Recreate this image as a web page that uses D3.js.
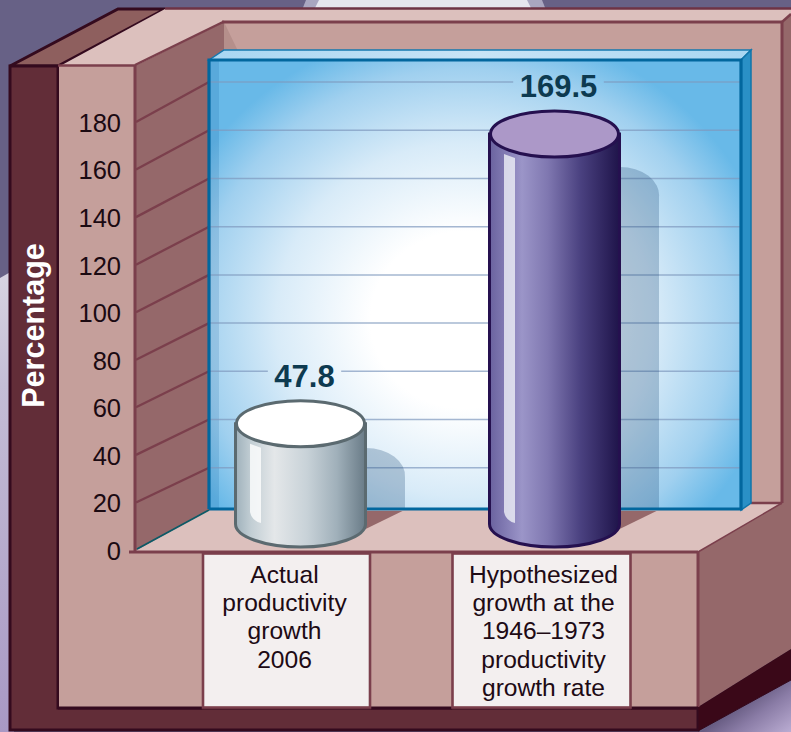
<!DOCTYPE html>
<html>
<head>
<meta charset="utf-8">
<script src="https://cdn.jsdelivr.net/npm/d3@7"></script>
<style>
  html, body { margin: 0; padding: 0; background: #6a6488; overflow: hidden; }
  svg { display: block; font-family: "Liberation Sans", Arial, sans-serif; }
</style>
</head>
<body>
<svg id="chart" width="791" height="732"></svg>
<script>
// Chart content
const categories = ["actual", "hypothesized"];
const categoryLines = [
  ["Actual", "productivity", "growth", "2006"],
  ["Hypothesized", "growth at the", "1946\u20131973", "productivity", "growth rate"]
];
const growthValues = [47.8, 169.5];
const tickValues = [0, 20, 40, 60, 80, 100, 120, 140, 160, 180];
const gridValues = [20, 40, 60, 80, 100, 120, 140, 160, 180];
const axisTitle = "Percentage";

// Palette
const FRONT = "#c59f9b", TOP = "#dcc0bd", WALL = "#95686a", DARK = "#622d38",
      EDGE = "#7b3f4c", DEEP = "#340a1e";

const svg = d3.select("#chart");
const defs = svg.append("defs");

function linear(id, coords, stops) {
  const g = defs.append("linearGradient").attr("id", id).attr("gradientUnits", coords.units || "objectBoundingBox")
    .attr("x1", coords.x1).attr("y1", coords.y1).attr("x2", coords.x2).attr("y2", coords.y2);
  stops.forEach(s => g.append("stop").attr("offset", s[0]).attr("stop-color", s[1]));
}
linear("bgLeft", {x1: 0, y1: 0, x2: 0, y2: 1}, [[0, "#d8d4e2"], [0.25, "#c4bdd6"], [1, "#a898c4"]]);
linear("bgCorner", {units: "userSpaceOnUse", x1: 735, y1: 690, x2: 775, y2: 745}, [[0, "#4e4468"], [0.5, "#8a7ca6"], [1, "#bcaed4"]]);
linear("barGrey", {x1: 0, y1: 0, x2: 1, y2: 0},
  [[0, "#9fb1bb"], [0.12, "#c2ced4"], [0.3, "#e4e7e9"], [0.55, "#c8d2d8"], [0.78, "#a0b0ba"], [1, "#697b87"]]);
linear("barPurple", {x1: 0, y1: 0, x2: 1, y2: 0},
  [[0, "#6a629f"], [0.25, "#9b95c8"], [0.45, "#7f77b0"], [0.7, "#4a4180"], [1, "#1f144a"]]);
linear("topFace", {x1: 0, y1: 0, x2: 1, y2: 0}, [[0, "#a8d6f2"], [0.5, "#c8e4f6"], [1, "#a8d6f2"]]);

// Soft white glow in the middle of the back panel, deepening to blue at the corners
const glow = defs.append("radialGradient").attr("id", "panelGlow").attr("gradientUnits", "userSpaceOnUse")
  .attr("cx", 0).attr("cy", 0).attr("r", 1)
  .attr("gradientTransform", "translate(465,320) scale(315,295)");
[[0, "#ffffff"], [0.3, "#ffffff"], [0.6, "#d8ebf8"], [0.85, "#a0d0ef"], [1, "#68b9e8"]]
  .forEach(s => glow.append("stop").attr("offset", s[0]).attr("stop-color", s[1]));

// Scales: front edge of the box, back panel, bar tops and the shadows cast on the panel
const yFront = d3.scaleLinear().domain([0, 180]).range([550, 122]);
const yBack = d3.scaleLinear().domain([0, 180]).range([516, 82]);
const yBar = d3.scaleLinear().domain([0, 180]).range([537.5, 109]);
const yShadow = d3.scaleLinear().domain([0, 180]).range([558.4, 142.8]);
const xBar = d3.scalePoint().domain(categories).range([300.5, 554.5]);
const xBox = d3.scalePoint().domain(categories).range([286.5, 541.5]);

const BAR_RX = 65, BAR_RY = 23, BAR_FOOT = 524;
const PANEL = {left: 209, right: 741, top: 60, bottom: 510};

const poly = (g, pts, fill, stroke, sw) => g.append("polygon")
  .attr("points", pts.map(p => p.join(",")).join(" "))
  .attr("fill", fill).attr("stroke", stroke || "none").attr("stroke-width", sw || 0)
  .attr("stroke-linejoin", "miter");
const seg = (g, x1, y1, x2, y2, stroke, sw) => g.append("line")
  .attr("x1", x1).attr("y1", y1).attr("x2", x2).attr("y2", y2)
  .attr("stroke", stroke).attr("stroke-width", sw);

// Backdrop
const bg = svg.append("g");
bg.append("rect").attr("width", 791).attr("height", 732).attr("fill", "#676186");
poly(bg, [[0, 278], [14, 270], [14, 732], [0, 732]], "url(#bgLeft)");
poly(bg, [[0, 732], [700, 732], [791, 675], [791, 732]], "url(#bgCorner)");
poly(bg, [[302, 10], [306, 0], [542, 0], [546, 10]], "#a9a6c0");
poly(bg, [[314, 10], [319, 0], [527, 0], [532, 10]], "#e6e6ee");

// Box shell
const box = svg.append("g");
poly(box, [[10, 66], [118, 9], [165, 9], [58, 66]], "#8e5f5e", DEEP, 3);
poly(box, [[10, 66], [58, 66], [58, 708], [698, 708], [698, 730], [10, 730]], DARK, DEEP, 3);
poly(box, [[698, 707], [791, 649], [791, 680], [698, 731]], "#3a0818", DEEP, 1);
poly(box, [[60, 66], [165, 9], [791, 9], [791, 30], [224, 30], [135, 66]], TOP);
seg(box, 165, 8.5, 791, 8.5, "#6e3345", 2.5);

// Back wall, side walls and floor
poly(box, [[224, 22], [782, 22], [782, 510], [224, 510]], FRONT);
poly(box, [[224, 22], [238, 51], [224, 60]], "#b58f8b");
poly(box, [[135, 66], [224, 22], [224, 50], [209, 60], [209, 510], [135, 551]], WALL);
poly(box, [[782, 22], [791, 14], [791, 649], [698, 707], [698, 552], [782, 503]], WALL);
poly(box, [[135, 551], [209, 510], [741, 510], [751, 503], [782, 503], [698, 552]], TOP);
poly(box, [[59, 66], [135, 66], [135, 552], [698, 552], [698, 707], [59, 707]], FRONT);
seg(box, 58, 65.5, 135, 65.5, EDGE, 2.5);
seg(box, 135, 65, 224, 21.5, EDGE, 2.5);
seg(box, 222, 22, 782, 22, EDGE, 3);
seg(box, 135, 65, 135, 553, EDGE, 3);
seg(box, 782, 21, 782, 503, EDGE, 3);
seg(box, 782, 22, 791, 14, EDGE, 2.5);
seg(box, 751, 503, 782, 503, EDGE, 2.5);
seg(box, 698, 552, 782, 503, EDGE, 1.5);
seg(box, 129, 552, 698, 552, EDGE, 3);
seg(box, 698, 551, 698, 707, EDGE, 3);
seg(box, 58, 708, 202, 708, DEEP, 3);
seg(box, 371, 708, 452, 708, DEEP, 3);
seg(box, 631, 708, 698, 708, DEEP, 3);
seg(box, 137, 549, 209, 510, "#0c5a66", 1.8);

// Slanted scale lines along the left wall
box.append("g").selectAll("line").data(gridValues).join("line")
  .attr("x1", 136).attr("x2", PANEL.left)
  .attr("y1", d => yFront(d)).attr("y2", d => yBack(d))
  .attr("stroke", EDGE).attr("stroke-width", 2.3);

// Back panel with its glass-like edges
const panel = svg.append("g");
poly(panel, [[PANEL.left, PANEL.top], [224, 50], [751, 50], [PANEL.right, PANEL.top]], "url(#topFace)", "#1479b0", 1.5);
poly(panel, [[PANEL.right, PANEL.top], [751, 50], [751, 503], [PANEL.right, PANEL.bottom]], "#2a90c6", "#0f76ab", 1.5);
panel.append("rect").attr("x", PANEL.left).attr("y", PANEL.top)
  .attr("width", PANEL.right - PANEL.left).attr("height", PANEL.bottom - PANEL.top)
  .attr("fill", "url(#panelGlow)");
panel.append("rect").attr("x", PANEL.left).attr("y", PANEL.top)
  .attr("width", 10).attr("height", PANEL.bottom - PANEL.top)
  .attr("fill", "#00508c").attr("opacity", 0.14);

const gridLayer = svg.append("g");
const shadowLayer = svg.append("g");

const panelEdge = svg.append("g");
panelEdge.append("path")
  .attr("d", `M${PANEL.left},${PANEL.bottom - 1}V${PANEL.top}H${PANEL.right}V${PANEL.bottom - 1}H${PANEL.left}`)
  .attr("fill", "none").attr("stroke", "#02679e").attr("stroke-width", 3.2);

// Shadows cast by the bars on the panel and on the floor
categories.forEach((c, i) => {
  const cx = xBar(c), top = yShadow(growthValues[i]), reach = cx + 104.5, start = cx + BAR_RX - 6;
  shadowLayer.append("path")
    .attr("d", `M${start},${top}H${cx + 65}A39,28 0 0 1 ${reach},${top + 30}V${PANEL.bottom - 2}H${start}Z`)
    .attr("fill", "#1e4a78").attr("opacity", 0.27);
  poly(shadowLayer, [[cx + 45, PANEL.bottom + 1], [cx + 102, PANEL.bottom + 1], [cx + 59, BAR_FOOT + 8], [cx + 50, BAR_FOOT + 10]], WALL);
});

// Cylinders
const barStyle = [
  {body: "url(#barGrey)", cap: "#ffffff", stroke: "#5b6a70", glint: "#ffffff", glintOpacity: 0.78},
  {body: "url(#barPurple)", cap: "#ac98c8", stroke: "#25104f", glint: "#eef0f6", glintOpacity: 0.8}
];
const bars = svg.append("g").selectAll("g").data(categories).join("g");
bars.append("path")
  .attr("d", (c, i) => {
    const cx = xBar(c), top = yBar(growthValues[i]);
    return `M${cx - BAR_RX},${top}V${BAR_FOOT}A${BAR_RX},${BAR_RY} 0 0 0 ${cx + BAR_RX},${BAR_FOOT}V${top}Z`;
  })
  .attr("fill", (c, i) => barStyle[i].body)
  .attr("stroke", (c, i) => barStyle[i].stroke).attr("stroke-width", 3);
bars.append("path")
  .attr("d", (c, i) => {
    const left = xBar(c) - 50.5, right = left + 11, top = yBar(growthValues[i]);
    return `M${left},${top + 20}L${right},${top + 24}V${BAR_FOOT - 1}` +
           `Q${left + 2},${BAR_FOOT - 3} ${left},${BAR_FOOT - 12}Z`;
  })
  .attr("fill", (c, i) => barStyle[i].glint).attr("opacity", (c, i) => barStyle[i].glintOpacity);
bars.append("ellipse")
  .attr("cx", c => xBar(c)).attr("cy", (c, i) => yBar(growthValues[i]))
  .attr("rx", BAR_RX - 1).attr("ry", BAR_RY)
  .attr("fill", (c, i) => barStyle[i].cap)
  .attr("stroke", (c, i) => barStyle[i].stroke).attr("stroke-width", 3);

// Value labels above the cylinders
const valueLabels = svg.append("g").selectAll("text").data(categories).join("text")
  .attr("x", c => xBar(c) + 4)
  .attr("y", (c, i) => yBar(growthValues[i]) - BAR_RY - 13.5)
  .attr("text-anchor", "middle")
  .attr("font-size", 31).attr("font-weight", 700)
  .attr("fill", "#0d3a50")
  .text((c, i) => growthValues[i]);

// Panel rules, interrupted around any value label they would run through
const gaps = valueLabels.nodes().map(n => {
  const b = n.getBBox();
  return {x0: b.x - 6.5, x1: b.x + b.width + 6.5, y0: b.y, y1: b.y + b.height};
});
const ruleSegments = gridValues.flatMap(v => {
  const y = yBack(v);
  const hit = gaps.find(g => y > g.y0 && y < g.y1);
  return hit
    ? [{y, x0: PANEL.left, x1: hit.x0}, {y, x0: hit.x1, x1: PANEL.right}]
    : [{y, x0: PANEL.left, x1: PANEL.right}];
});
gridLayer.selectAll("line").data(ruleSegments).join("line")
  .attr("x1", d => d.x0).attr("x2", d => d.x1)
  .attr("y1", d => d.y).attr("y2", d => d.y)
  .attr("stroke", "#7f99bd").attr("stroke-opacity", 0.7).attr("stroke-width", 1.5);

// Y axis on the front face
const axis = svg.append("g").attr("transform", "translate(121,0)")
  .call(d3.axisLeft(yFront).tickValues(tickValues).tickSize(0).tickPadding(0));
axis.select(".domain").remove();
axis.selectAll("text")
  .attr("font-size", 25.5).attr("font-family", "'Liberation Sans', Arial, sans-serif")
  .attr("fill", "#1b0a12").attr("dy", "0.37em");

svg.append("text")
  .attr("transform", "translate(43.5,325.5) rotate(-90)")
  .attr("text-anchor", "middle").attr("font-size", 30.5).attr("font-weight", 700)
  .attr("fill", "#ffffff").text(axisTitle);

// Category plates
const plates = svg.append("g").selectAll("g").data(categories).join("g");
const plateWidth = [167, 178];
plates.append("rect")
  .attr("x", (c, i) => xBox(c) - plateWidth[i] / 2).attr("y", 553.5)
  .attr("width", (c, i) => plateWidth[i]).attr("height", 154)
  .attr("fill", "#f3efef").attr("stroke", EDGE).attr("stroke-width", 2.6);
plates.each(function (c, i) {
  d3.select(this).selectAll("text").data(categoryLines[i]).join("text")
    .attr("x", xBox(c) + (i === 1 ? 2 : -2))
    .attr("y", (d, j) => 583 + j * 28.2)
    .attr("text-anchor", "middle").attr("font-size", 24.6)
    .attr("fill", "#200a14").text(d => d);
});
</script>
</body>
</html>
